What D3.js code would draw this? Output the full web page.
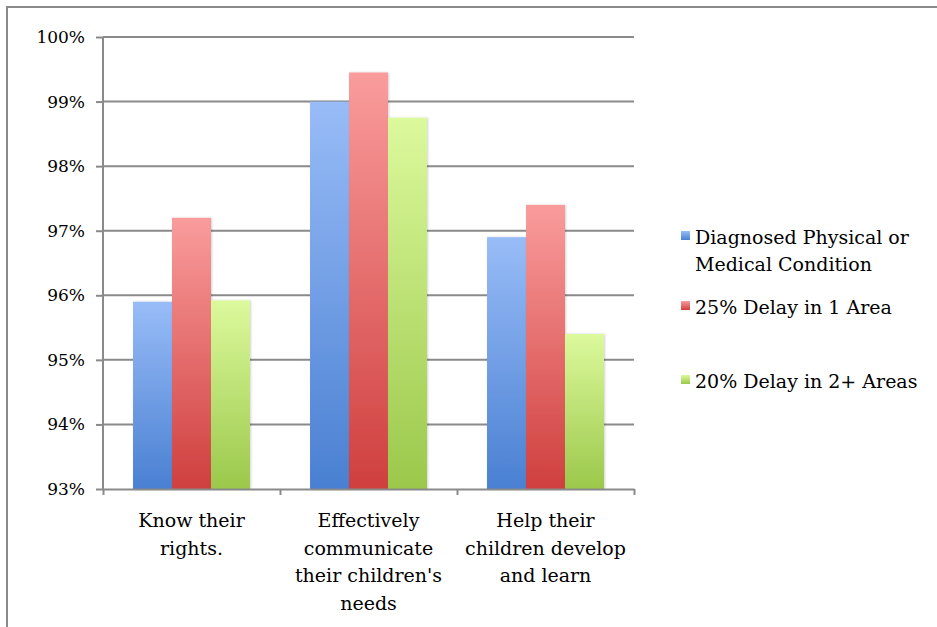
<!DOCTYPE html>
<html><head><meta charset="utf-8">
<script src="https://cdn.jsdelivr.net/npm/d3@7"></script>
<style>body{margin:0;background:#fff}svg{display:block}</style>
</head><body>
<svg id="c" width="937" height="627"></svg>
<script>
const categories = [["Know their","rights."],["Effectively","communicate","their children's","needs"],["Help their","children develop","and learn"]];
const seriesNames = [["Diagnosed Physical or","Medical Condition"],["25% Delay in 1 Area"],["20% Delay in 2+ Areas"]];
const diagnosed = [95.9, 99.0, 96.9];
const delay1 = [97.2, 99.45, 97.4];
const delay2 = [95.92, 98.75, 95.4];
const yTicks = [93,94,95,96,97,98,99,100];
const series = [diagnosed, delay1, delay2];
const colors = [["#98BCF7","#4A80D2"],["#FA9C9C","#CF3F3E"],["#DCF99C","#9BC84B"]];
const fontFam = "'DejaVu Serif', serif";

const svg = d3.select("#c");
const defs = svg.append("defs");
colors.forEach((c,i)=>{
  const g = defs.append("linearGradient").attr("id","g"+i).attr("x1",0).attr("y1",0).attr("x2",0).attr("y2",1);
  g.append("stop").attr("offset","0%").attr("stop-color",c[0]);
  g.append("stop").attr("offset","100%").attr("stop-color",c[1]);
});
const f = defs.append("filter").attr("id","sh").attr("x","-20%").attr("y","-5%").attr("width","140%").attr("height","110%");
f.append("feDropShadow").attr("dx",1).attr("dy",0).attr("stdDeviation",1.2).attr("flood-color","#000").attr("flood-opacity",0.18);

// outer border
svg.append("path").attr("d","M7,640 L7,7 L945,7").attr("fill","none").attr("stroke","#8a8a8a").attr("stroke-width",2);

const L=103, R=634, T=37, B=489;
const x0 = d3.scaleBand().domain(d3.range(categories.length)).range([L,R]).paddingInner(0).paddingOuter(0);
const x1 = d3.scaleBand().domain(d3.range(series.length)).range([0,x0.bandwidth()]).paddingInner(0).paddingOuter(0.77);
const y = d3.scaleLinear().domain([93,100]).range([B,T]);

// gridlines
svg.append("g").selectAll("line").data(yTicks.filter(t=>t>93)).join("line")
  .attr("x1",L).attr("x2",R).attr("y1",d=>y(d)).attr("y2",d=>y(d))
  .attr("stroke","#8a8a8a").attr("stroke-width",2);

// bars
categories.forEach((c,ci)=>{
  series.forEach((s,si)=>{
    svg.append("rect")
      .attr("x",x0(ci)+x1(si)).attr("width",x1.bandwidth())
      .attr("y",y(s[ci])).attr("height",y(93)-y(s[ci]))
      .attr("fill",`url(#g${si})`).attr("filter","url(#sh)");
  });
});

// y axis
const yAxis = d3.axisLeft(y).tickValues(yTicks).tickFormat(d=>d+"%").tickSize(7).tickPadding(11);
const ya = svg.append("g").attr("transform",`translate(${L},0)`).call(yAxis);
ya.select(".domain").attr("stroke","#8a8a8a").attr("stroke-width",2).attr("d",`M0,${T}V${B}`);
ya.selectAll(".tick line").attr("stroke","#8a8a8a").attr("stroke-width",2);
ya.selectAll(".tick text").attr("font-family",fontFam).attr("font-size",17).attr("fill","#000");

// x axis
const xt = d3.scaleLinear().domain([0,categories.length]).range([L,R]);
const xa = svg.append("g").attr("transform",`translate(0,${B})`)
  .call(d3.axisBottom(xt).tickValues(d3.range(categories.length+1)).tickFormat("").tickSize(6).tickSizeOuter(0));
xa.select(".domain").attr("stroke","#8a8a8a").attr("stroke-width",2);
xa.selectAll(".tick line").attr("stroke","#8a8a8a").attr("stroke-width",2);

// category labels
categories.forEach((lines,ci)=>{
  const t = svg.append("text").attr("font-family",fontFam).attr("font-size",19).attr("fill","#000")
    .attr("text-anchor","middle");
  lines.forEach((ln,li)=>{
    t.append("tspan").attr("x",x0(ci)+x0.bandwidth()/2).attr("y",527+li*27.7).text(ln);
  });
});

// legend
const legY = [237, 307, 381];
seriesNames.forEach((lines,si)=>{
  svg.append("rect").attr("x",681).attr("y",legY[si]-6).attr("width",9).attr("height",9)
    .attr("fill",`url(#g${si})`);
  const t = svg.append("text").attr("font-family",fontFam).attr("font-size",19).attr("fill","#000");
  lines.forEach((ln,li)=>{
    t.append("tspan").attr("x",695).attr("y",legY[si]+7+li*27).text(ln);
  });
});
</script>
</body></html>
